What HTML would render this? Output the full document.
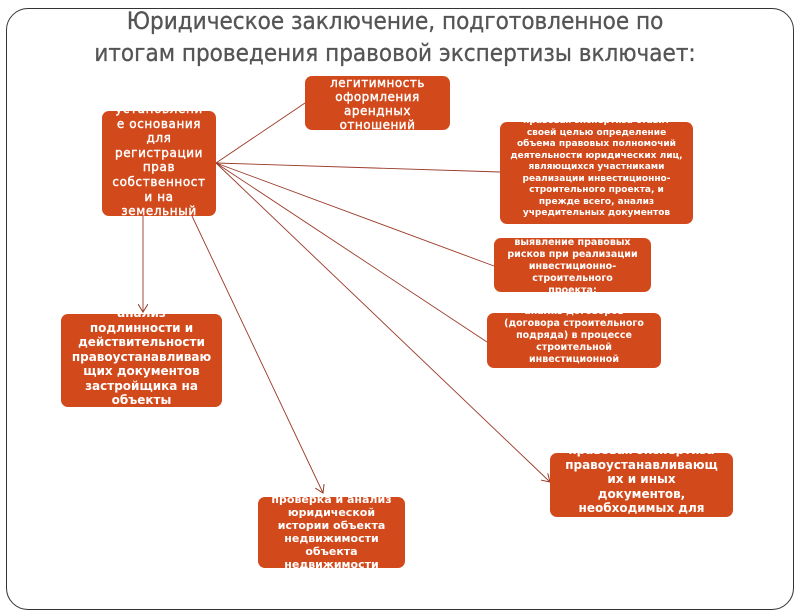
<!DOCTYPE html>
<html><head><meta charset="utf-8"><style>
body{margin:0;width:800px;height:600px;background:#fff;position:relative;overflow:hidden;font-family:"DejaVu Sans","Liberation Sans",sans-serif;}
.frame{position:absolute;left:6px;top:8px;width:786px;height:600px;border:1px solid #333;border-radius:22px;}
.title{position:absolute;left:0;width:790px;text-align:center;color:#555;font-family:"DejaVu Sans Condensed","DejaVu Sans",sans-serif;font-stretch:condensed;font-size:24px;line-height:32px;top:5px;-webkit-text-stroke:0.3px #555;}
.b{position:absolute;background:#d24a1c;border-radius:7px;overflow:hidden;color:#fff;font-weight:bold;text-align:center;}
.b div{position:absolute;left:0;right:0;}
svg{position:absolute;left:0;top:0;}
</style></head><body>
<div class="frame"></div>
<div class="title">Юридическое заключение, подготовленное по<br>итогам проведения правовой экспертизы включает:</div>
<svg width="800" height="600">
<defs><marker id="a" markerWidth="10" markerHeight="10" refX="8" refY="5" orient="auto" markerUnits="userSpaceOnUse"><path d="M0,0 L8,5 L0,10" fill="none" stroke="#9a3a28" stroke-width="1"/></marker></defs>
<g stroke="#9a3a28" stroke-width="0.9" fill="none">
<line x1="216" y1="163" x2="305" y2="103"/>
<line x1="216" y1="163" x2="500" y2="172"/>
<line x1="216" y1="163" x2="494" y2="266"/>
<line x1="216" y1="163" x2="487" y2="342"/>
<line x1="216" y1="163" x2="550" y2="482" marker-end="url(#a)"/>
<line x1="143" y1="216" x2="143" y2="312" marker-end="url(#a)"/>
<line x1="192" y1="216" x2="323" y2="493" marker-end="url(#a)"/>
</g></svg>
<div class="b" style="left:305px;top:76px;width:145px;height:54px;font-size:12px;line-height:14px;letter-spacing:0.5px;font-weight:normal;-webkit-text-stroke:0.4px #fff;"><div style="top:0">легитимность<br>оформления<br>арендных<br>отношений</div></div>
<div class="b" style="left:102px;top:111px;width:114px;height:105px;font-size:12px;line-height:14.6px;letter-spacing:0.6px;font-weight:normal;-webkit-text-stroke:0.4px #fff;"><div style="top:-9px">установлени<br>е основания<br>для<br>регистрации<br>прав<br>собственност<br>и на<br>земельный</div></div>
<div class="b" style="left:500px;top:122px;width:193px;height:102px;font-size:9px;line-height:11.5px;"><div style="top:-6px">правовая экспертиза ставит<br>своей целью определение<br>объема правовых полномочий<br>деятельности юридических лиц,<br>являющихся участниками<br>реализации инвестиционно-<br>строительного проекта, и<br>прежде всего, анализ<br>учредительных документов</div></div>
<div class="b" style="left:494px;top:238px;width:157px;height:54px;font-size:9.5px;line-height:12px;"><div style="top:-1px">выявление  правовых<br>рисков при реализации<br>инвестиционно-<br>строительного<br>проекта;</div></div>
<div class="b" style="left:487px;top:313px;width:174px;height:55px;font-size:9.5px;line-height:12px;"><div style="top:-7px">анализ договоров<br>(договора строительного<br>подряда) в процессе<br>строительной<br>инвестиционной</div></div>
<div class="b" style="left:61px;top:314px;width:161px;height:93px;font-size:12px;line-height:14.5px;"><div style="top:-8px">анализ<br>подлинности и<br>действительности<br>правоустанавливаю<br>щих документов<br>застройщика на<br>объекты</div></div>
<div class="b" style="left:258px;top:497px;width:147px;height:71px;font-size:11px;line-height:13px;"><div style="top:-4px">проверка и анализ<br>юридической<br>истории объекта<br>недвижимости<br>объекта<br>недвижимости</div></div>
<div class="b" style="left:550px;top:453px;width:183px;height:64px;font-size:12px;line-height:14.5px;"><div style="top:-10px">правовая экспертиза<br>правоустанавливающ<br>их и иных<br>документов,<br>необходимых для</div></div>
</body></html>
